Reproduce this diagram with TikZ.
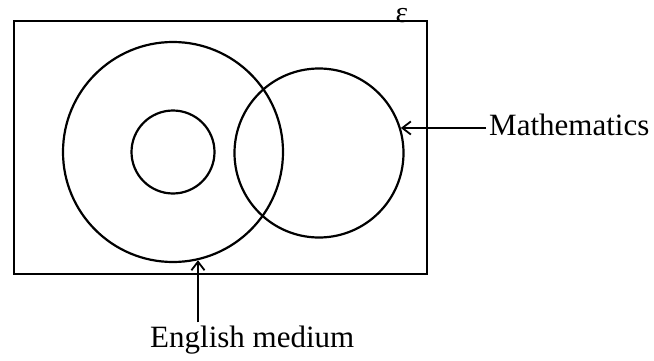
\documentclass[tikz,border=0pt]{standalone}
\usepackage{fontspec}
\setmainfont{Liberation Serif}
\usetikzlibrary{arrows.meta}
\tikzset{
  >={Straight Barb[length=3mm,width=4.6mm,line width=1.8pt]},
  set/.style={circle,draw,line width=2.2pt,inner sep=0pt},
  lab/.style={font=\fontsize{31}{36}\selectfont,inner sep=3pt},
  arr/.style={->,line width=2pt},
}
\begin{document}
\begin{tikzpicture}[x=1pt,y=1pt]
\useasboundingbox (0,0) rectangle (654,360);
% universal set
\draw[line width=2.8pt] (14,86) rectangle (427,339);
\node[font=\fontsize{30}{32}\selectfont,inner sep=0pt] (univ) at (402,344) {ε};
% sets
\node[set,minimum size=220pt] (engc) at (173,208) {};
\node[set,minimum size=83pt] (innc) at (173,208) {};
\node[set,minimum size=169pt] (mathc) at (319,207) {};
% labels
\node[lab,anchor=base west] (mathslab) at (486,225) {Mathematics};
\node[lab,anchor=base west] (englab) at (147,13) {English medium};
\draw[arr] (mathslab.west |- mathc.17) -- (mathc.17);
\draw[arr] (englab.north -| engc.-77) -- (engc.-77);
\end{tikzpicture}
\end{document}
